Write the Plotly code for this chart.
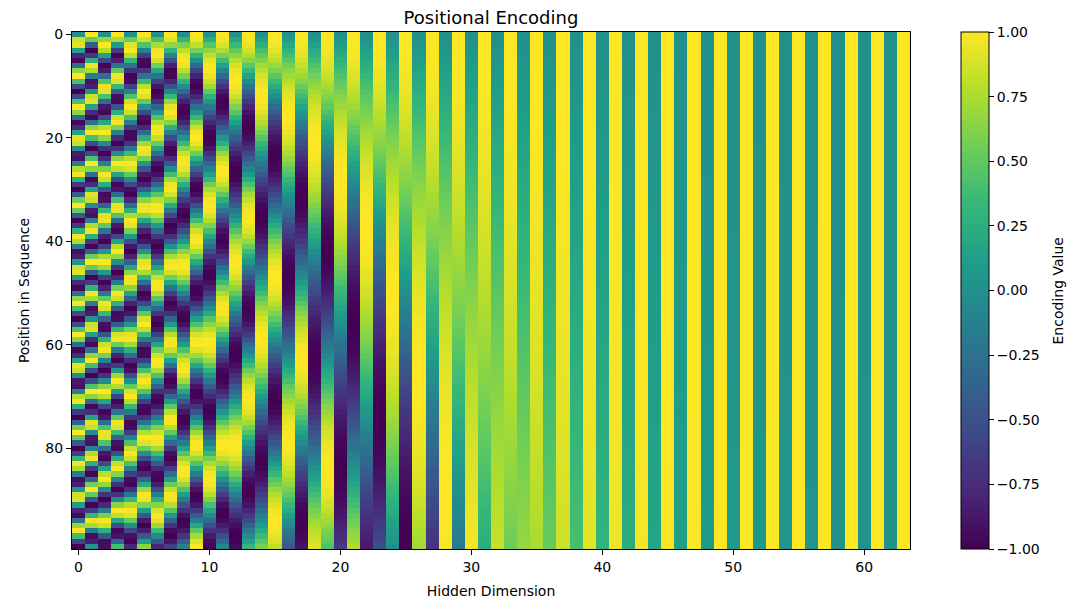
import numpy as np
import plotly.graph_objects as go

# sinusoidal positional encoding, 100 positions x 64 hidden dims
max_len = 100
d_model = 64
base = 10000.0

positions = np.arange(max_len)
dims = np.arange(d_model)

pos = positions[:, None]
div_term = np.exp(np.arange(0, d_model, 2) * -(np.log(base) / d_model))
pe = np.zeros((max_len, d_model))
pe[:, 0::2] = np.sin(pos * div_term)
pe[:, 1::2] = np.cos(pos * div_term)

x_ticks = [0, 10, 20, 30, 40, 50, 60]
y_ticks = [0, 20, 40, 60, 80]
cbar_ticks = [-1.0, -0.75, -0.5, -0.25, 0.0, 0.25, 0.5, 0.75, 1.0]

fs = 14

fig = go.Figure(go.Heatmap(
    z=pe, x=dims, y=positions,
    colorscale="Viridis", zmin=-1, zmax=1,
    colorbar=dict(
        x=1.0609, xanchor="left", xref="paper", xpad=0,
        y=0, yanchor="bottom", len=1, lenmode="fraction", ypad=0,
        thickness=28, outlinewidth=1, outlinecolor="black",
        tickvals=cbar_ticks, tickformat=".2f",
        ticks="outside", ticklen=5, tickcolor="black",
        tickfont=dict(size=fs, color="black"),
    ),
))

axis_style = dict(
    showline=True, linecolor="black", linewidth=1, mirror=True,
    ticks="outside", ticklen=5, tickcolor="black",
    tickfont=dict(size=fs, color="black"),
    showgrid=False, zeroline=False, automargin=False,
)

fig.update_xaxes(
    range=[-0.5, 63.5], tickvals=x_ticks,
    title=dict(text="Hidden Dimension", font=dict(size=fs, color="black"), standoff=12),
    **axis_style,
)
fig.update_yaxes(
    range=[99.5, -0.5], tickvals=y_ticks,
    title=dict(text="Position in Sequence", font=dict(size=fs, color="black"), standoff=12),
    **axis_style,
)

fig.add_annotation(
    text="Encoding Value", textangle=-90,
    xref="paper", yref="paper", x=1.1766, y=0.5,
    xanchor="center", yanchor="middle", showarrow=False,
    font=dict(size=fs, color="black"),
)

fig.update_layout(
    width=1091, height=602,
    margin=dict(l=64, r=189, t=24, b=61),
    paper_bgcolor="white", plot_bgcolor="white",
    font=dict(family="DejaVu Sans", color="black"),
    title=dict(text="Positional Encoding", xref="paper", x=0.5, xanchor="center",
               yref="container", y=1, yanchor="top", pad=dict(t=3),
               font=dict(size=18, color="black")),
)

fig.write_html("out.html")
